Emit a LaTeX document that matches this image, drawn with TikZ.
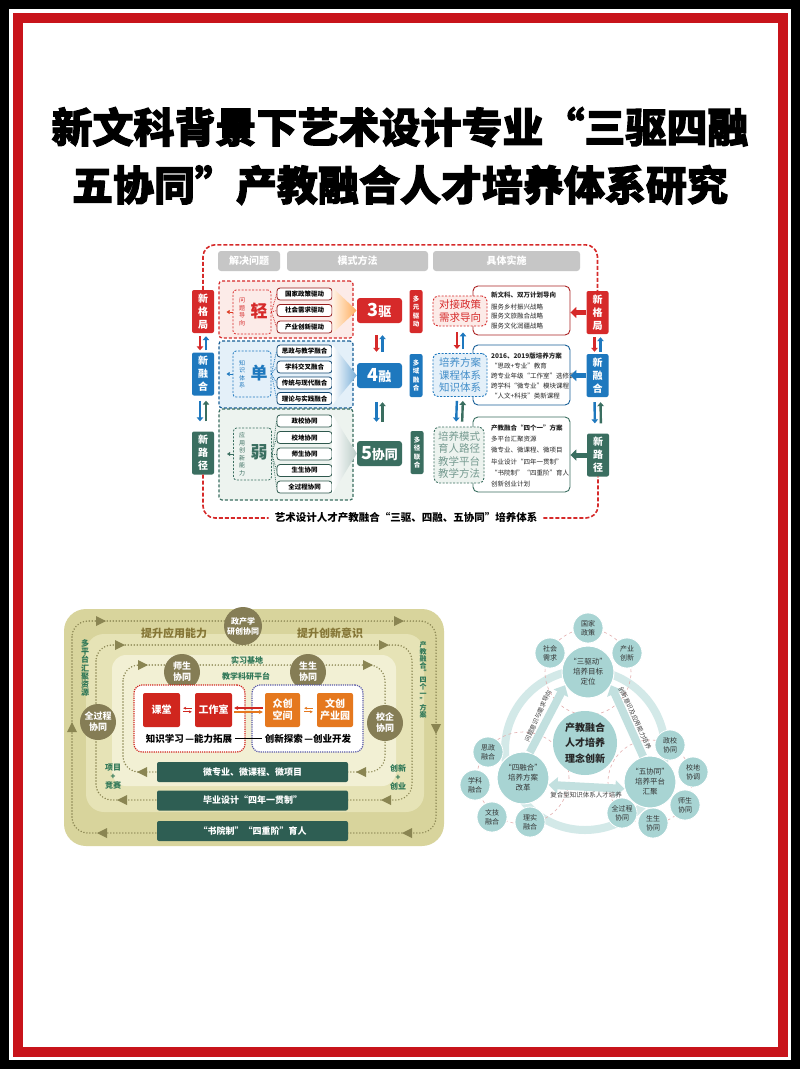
\documentclass[tikz,border=0pt]{standalone}
\usepackage{fontspec}
\setmainfont{Noto Sans CJK SC}
\newfontfamily\titlefont{Noto Sans CJK SC}[FakeBold=2.5]
\usetikzlibrary{arrows.meta,shapes.geometric,calc}
\definecolor{frameRed}{HTML}{C8141B}
\definecolor{tRed}{HTML}{D62A2A}
\definecolor{tBlue}{HTML}{1E78BE}
\definecolor{tGreen}{HTML}{3A6E60}
\definecolor{hdrGray}{HTML}{C6C6C6}
\definecolor{pinkF}{HTML}{FCEBE8}
\definecolor{blueF}{HTML}{E4F0F9}
\definecolor{greenF}{HTML}{EDF3EF}
\definecolor{olv}{HTML}{8A8552}
\definecolor{khA}{HTML}{D8D49C}
\definecolor{khB}{HTML}{E6E3B6}
\definecolor{khC}{HTML}{F2F0D4}
\definecolor{circO}{HTML}{857D55}
\definecolor{bRed}{HTML}{D0261E}
\definecolor{bOrg}{HTML}{E5781E}
\definecolor{barG}{HTML}{2E5E53}
\definecolor{lblG}{HTML}{2F7757}
\definecolor{lblB}{HTML}{857636}
\definecolor{tealF}{HTML}{A8D4D3}
\definecolor{ringC}{HTML}{D3E9E8}
\definecolor{arrC}{HTML}{C2E0DF}
\definecolor{dashP}{HTML}{E3AFAF}
\newcommand{\olvR}[2]{\fill[olv] (#1-4,#2-5) -- (#1+6,#2) -- (#1-4,#2+5) -- cycle;}
\newcommand{\olvL}[2]{\fill[olv] (#1+4,#2-5) -- (#1-6,#2) -- (#1+4,#2+5) -- cycle;}
\newcommand{\olvU}[2]{\fill[olv] (#1-5,#2+4) -- (#1,#2-6) -- (#1+5,#2+4) -- cycle;}
\newcommand{\olvD}[2]{\fill[olv] (#1-5,#2-4) -- (#1,#2+6) -- (#1+5,#2-4) -- cycle;}
\begin{document}
\begin{tikzpicture}[x=1pt,y=-1pt,
  sideBox/.style={rounded corners=2pt, minimum width=22pt, minimum height=43pt, text=white, font=\bfseries\fontsize{10}{13}\selectfont, align=center, inner sep=0pt},
  hdr/.style={fill=hdrGray, rounded corners=3pt, minimum height=20pt, text=white, font=\bfseries\fontsize{10}{10}\selectfont, inner sep=0pt},
  grp/.style={dash pattern=on 3pt off 2pt, line width=1.2pt, rounded corners=3pt, inner sep=0pt},
  item/.style={draw, line width=0.8pt, fill=white, rounded corners=3pt, minimum width=55pt, minimum height=12pt, inner sep=0pt, font=\bfseries\fontsize{6.5}{6.5}\selectfont},
  inbox/.style={dash pattern=on 2pt off 1.5pt, line width=0.8pt, rounded corners=3pt, minimum width=38pt, inner sep=0pt},
  num/.style={rounded corners=3pt, minimum width=45pt, minimum height=25pt, text=white, font=\bfseries\fontsize{13}{13}\selectfont, inner sep=0pt},
  mini/.style={rounded corners=2pt, minimum width=13pt, minimum height=43pt, text=white, font=\bfseries\fontsize{6.5}{8.5}\selectfont, align=center, inner sep=0pt},
  cloud/.style={dash pattern=on 2pt off 1.5pt, line width=0.9pt, rounded corners=5pt, inner sep=0pt, align=center, font=\fontsize{10.5}{12.2}\selectfont},
  det/.style={draw, line width=0.9pt, fill=white, rounded corners=5pt, minimum width=97pt, inner sep=0pt},
  dtext/.style={align=left, inner sep=0pt, anchor=west, text=black!85},
  xarr/.style={line width=2.4pt, -{Triangle[length=4pt,width=6.5pt]}},
  bigarr/.style={line width=5pt, -{Triangle[length=6pt,width=11pt]}},
  loopd/.style={olv, line width=1.6pt, dash pattern=on 0pt off 3pt, line cap=round, rounded corners=16pt},
  circ/.style={circle, fill=circO, text=white, font=\bfseries\fontsize{9}{11}\selectfont, align=center, minimum size=36pt, inner sep=0pt},
  rbox/.style={rounded corners=2pt, text=white, font=\bfseries\fontsize{10}{12}\selectfont, align=center, minimum width=37pt, minimum height=34pt, inner sep=0pt},
  gbar/.style={fill=barG, rounded corners=2pt, text=white, font=\bfseries\fontsize{9}{9}\selectfont, minimum width=191pt, minimum height=20pt, inner sep=0pt},
  mc/.style={circle, fill=tealF, draw=white, line width=1pt, minimum size=52pt, align=center, font=\fontsize{7.5}{10}\selectfont, inner sep=0pt, text=black!80},
  sat/.style={circle, fill=tealF, draw=white, line width=0.8pt, minimum size=30pt, align=center, font=\fontsize{7}{9}\selectfont, inner sep=0pt, text=black!80},
  barr/.style={arrC, line width=8pt, -{Triangle[length=9pt,width=16pt]}}
]
\useasboundingbox (0,0) rectangle (800,1069);
\fill[white] (0,0) rectangle (800,1069);
\draw[black, line width=9pt] (4.5,4.5) rectangle (795.5,1064.5);
\draw[frameRed, line width=10pt] (17.5,17.5) rectangle (782.5,1051.5);

% ---------- title ----------
\node[font=\titlefont\bfseries\fontsize{41}{41}\selectfont, inner sep=0pt] (t1) at (400,127) {新文科背景下艺术设计专业“三驱四融};
\node[font=\titlefont\bfseries\fontsize{41}{41}\selectfont, inner sep=0pt] (t2) at (400,185) {五协同”产教融合人才培养体系研究};

% ---------- top diagram ----------
\node[sideBox, fill=tRed] (lR) at (203,311.5) {新\\格\\局};
\node[sideBox, fill=tBlue] (lB) at (203,374) {新\\融\\合};
\node[sideBox, fill=tGreen] (lG) at (203,453) {新\\路\\径};

\node[hdr, minimum width=62pt] (h1) at (249,261) {解决问题};
\node[hdr, minimum width=141pt] (h2) at (357.5,261) {模式方法};
\node[hdr, minimum width=147pt] (h3) at (506.5,261) {具体实施};

\node[grp, draw=tRed, fill=pinkF, minimum width=134pt, minimum height=57pt] (gR) at (286,309.5) {};
\node[grp, draw=tBlue!80!black, fill=blueF, minimum width=134pt, minimum height=67pt] (gB) at (286,374.5) {};
\node[grp, draw=tGreen, fill=greenF, minimum width=134pt, minimum height=91pt] (gG) at (286,454.5) {};

\node[inbox, draw=tRed, minimum height=44pt] (iR) at (252,312) {};
\node[font=\fontsize{6}{7.5}\selectfont, text=tRed, align=center, inner sep=0pt] (iRt) at (242,312) {问\\题\\导\\向};
\node[font=\bfseries\fontsize{17}{17}\selectfont, text=tRed, inner sep=0pt] (iRb) at (259,311) {轻};
\node[inbox, draw=tBlue, minimum height=46pt] (iB) at (252,374) {};
\node[font=\fontsize{6}{7.5}\selectfont, text=tBlue, align=center, inner sep=0pt] (iBt) at (242,374) {知\\识\\体\\系};
\node[font=\bfseries\fontsize{17}{17}\selectfont, text=tBlue, inner sep=0pt] (iBb) at (259,373) {单};
\node[inbox, draw=tGreen, minimum height=52pt] (iG) at (252.5,454) {};
\node[font=\fontsize{6}{7.5}\selectfont, text=tGreen, align=center, inner sep=0pt] (iGt) at (242,454) {应\\用\\创\\新\\能\\力};
\node[font=\bfseries\fontsize{17}{17}\selectfont, text=tGreen, inner sep=0pt] (iGb) at (259,452) {弱};
\draw[tRed!80!orange, -{Triangle[length=3pt,width=4pt]}] (iR.west) -- ++(-6,0);
\draw[tBlue, -{Triangle[length=3pt,width=4pt]}] (iB.west) -- ++(-6,0);
\draw[tGreen, -{Triangle[length=3pt,width=4pt]}] (iG.west) -- ++(-6,0);

\node[item, draw=tRed!70!black] (r1) at (304.5,294) {国家政策驱动};
\node[item, draw=tRed!70!black] (r2) at (304.5,310.5) {社会需求驱动};
\node[item, draw=tRed!70!black] (r3) at (304.5,327) {产业创新驱动};
\node[item, draw=tBlue!60!black] (b1) at (304.5,351) {思政与教学融合};
\node[item, draw=tBlue!60!black] (b2) at (304.5,367) {学科交叉融合};
\node[item, draw=tBlue!60!black] (b3) at (304.5,383) {传统与现代融合};
\node[item, draw=tBlue!60!black] (b4) at (304.5,398.5) {理论与实践融合};
\node[item, draw=tGreen!80!black] (g1) at (304.5,421) {政校协同};
\node[item, draw=tGreen!80!black] (g2) at (304.5,437.5) {校地协同};
\node[item, draw=tGreen!80!black] (g3) at (304.5,454) {师生协同};
\node[item, draw=tGreen!80!black] (g4) at (304.5,470.5) {生生协同};
\node[item, draw=tGreen!80!black] (g5) at (304.5,487) {全过程协同};
\foreach \n in {r1,r2,r3} \draw[densely dotted, tRed, line width=0.8pt] (iR.east) -- (\n.west);
\foreach \n in {b1,b2,b3,b4} \draw[densely dotted, tBlue, line width=0.8pt] (iB.east) -- (\n.west);
\foreach \n in {g1,g2,g3,g4,g5} \draw[densely dotted, tGreen, line width=0.8pt] (iG.east) -- (\n.west);

\node[num, fill=tRed] (n3) at (379.5,310.5) {\fontsize{18}{18}\selectfont 3\fontsize{13}{13}\selectfont 驱};
\node[num, fill=tBlue] (n4) at (379.5,375.5) {\fontsize{18}{18}\selectfont 4\fontsize{13}{13}\selectfont 融};
\node[num, fill=tGreen] (n5) at (379.5,453.5) {\fontsize{18}{18}\selectfont 5\fontsize{13}{13}\selectfont 协同};
\shade[left color=orange!10, right color=orange!65] (r1.north east) -- (n3.west) -- (r3.south east) -- cycle;
\shade[left color=white, right color=tBlue!60] (b1.north east) -- (n4.west) -- (b4.south east) -- cycle;
\shade[left color=white, right color=tGreen!35] (g1.north east) -- (n5.west) -- (g5.south east) -- cycle;

\draw[xarr, tRed, shorten <=12pt, shorten >=11pt] ([xshift=-3pt]n3.south) -- ([xshift=-3pt]n4.north);
\draw[xarr, tBlue, shorten <=11pt, shorten >=12pt] ([xshift=3pt]n4.north) -- ([xshift=3pt]n3.south);
\draw[xarr, tBlue, shorten <=14pt, shorten >=19pt] ([xshift=-3pt]n4.south) -- ([xshift=-3pt]n5.north);
\draw[xarr, tGreen, shorten <=19pt, shorten >=14pt] ([xshift=3pt]n5.north) -- ([xshift=3pt]n4.south);

\draw[xarr, tRed, shorten <=3pt, shorten >=2pt] ([xshift=-3pt]lR.south) -- ([xshift=-3pt]lB.north);
\draw[xarr, tBlue, shorten <=2pt, shorten >=3pt] ([xshift=3pt]lB.north) -- ([xshift=3pt]lR.south);
\draw[xarr, tBlue, shorten <=5pt, shorten >=10pt] ([xshift=-3pt]lB.south) -- ([xshift=-3pt]lG.north);
\draw[xarr, tGreen, shorten <=10pt, shorten >=5pt] ([xshift=3pt]lG.north) -- ([xshift=3pt]lB.south);

\node[mini, fill=tRed] (mR) at (416,311.5) {多\\元\\驱\\动};
\node[mini, fill=tBlue] (mB) at (416,375.5) {多\\域\\融\\合};
\node[mini, fill=tGreen] (mG) at (417,452.5) {多\\径\\联\\合};

\node[det, draw=tRed!80!black, minimum height=49pt] (dR) at (521.5,310.5) {};
\node[dtext, font=\fontsize{6.5}{9.5}\selectfont] (dRt) at (491,310.5) {\textbf{新文科、双万计划导向}\\[2pt]服务乡村振兴战略\\服务文旅融合战略\\服务文化润疆战略};
\node[det, draw=tBlue!80!black, minimum height=60pt] (dB) at (521.5,375) {};
\node[dtext, font=\fontsize{6.5}{9.8}\selectfont] (dBt) at (491,376) {\textbf{2016、2019版培养方案}\\“思政+专业”教育\\跨专业年级“工作室”选修课\\跨学科“微专业”模块课程\\“人文+科技”类新课程};
\node[det, draw=tGreen, minimum height=75pt] (dG) at (521.5,454.5) {};
\node[dtext, font=\fontsize{6.5}{11.2}\selectfont] (dGt) at (491,456) {\textbf{产教融合“四个一”方案}\\多平台汇聚资源\\微专业、微课程、微项目\\毕业设计“四年一贯制”\\“书院制”“四重阶”育人\\创新创业计划};

\node[cloud, draw=tRed, fill=pinkF, text=tRed, minimum width=54pt, minimum height=30pt] (cR) at (460,311) {对接政策\\需求导向};
\node[cloud, draw=tBlue, fill=blueF, text=tBlue!85, minimum width=54pt, minimum height=43pt] (cB) at (460,375) {培养方案\\课程体系\\知识体系};
\node[cloud, draw=tGreen, fill=greenF, text=tGreen!70, minimum width=50pt, minimum height=56pt] (cG) at (459,455) {培养模式\\育人路径\\教学平台\\教学方法};
\draw[xarr, tRed, shorten <=6pt, shorten >=4pt] ([xshift=-3pt]cR.south) -- ([xshift=-3pt]cB.north);
\draw[xarr, tBlue, shorten <=4pt, shorten >=6pt] ([xshift=3pt]cB.north) -- ([xshift=3pt]cR.south);
\draw[xarr, tBlue, shorten <=4pt, shorten >=5pt] ([xshift=-3pt]cB.south) -- ([xshift=-3pt]cG.north);
\draw[xarr, tGreen, shorten <=5pt, shorten >=4pt] ([xshift=3pt]cG.north) -- ([xshift=3pt]cB.south);

\node[sideBox, fill=tRed] (rR) at (597.5,312.5) {新\\格\\局};
\node[sideBox, fill=tBlue] (rB) at (597.5,375.5) {新\\融\\合};
\node[sideBox, fill=tGreen] (rG) at (598,455) {新\\路\\径};
\draw[bigarr, tRed] (rR.west) -- (rR.west -| dR.east);
\draw[bigarr, tBlue] (rB.west) -- (rB.west -| dB.east);
\draw[bigarr, tGreen] (rG.west) -- (rG.west -| dG.east);
\draw[xarr, tRed, shorten <=3pt, shorten >=2pt] ([xshift=-3pt]rR.south) -- ([xshift=-3pt]rB.north);
\draw[xarr, tBlue, shorten <=2pt, shorten >=3pt] ([xshift=3pt]rB.north) -- ([xshift=3pt]rR.south);
\draw[xarr, tBlue, shorten <=5pt, shorten >=10pt] ([xshift=-3pt]rB.south) -- ([xshift=-3pt]rG.north);
\draw[xarr, tGreen, shorten <=10pt, shorten >=5pt] ([xshift=3pt]rG.north) -- ([xshift=3pt]rB.south);

\node[font=\bfseries\fontsize{10.5}{10.5}\selectfont, inner sep=6pt] (cap) at (406,518) {艺术设计人才产教融合“三驱、四融、五协同”培养体系};
\draw[tRed, dash pattern=on 4pt off 2pt, line width=1.6pt, rounded corners=12pt] (lR.north) -- ++(0,-45) -| (rR.north);
\draw[tRed, dash pattern=on 4pt off 2pt, line width=1.6pt, rounded corners=12pt] (lG.south) |- (cap.west);
\draw[tRed, dash pattern=on 4pt off 2pt, line width=1.6pt, rounded corners=12pt] (cap.east) -| (rG.south);

% ---------- bottom-left diagram ----------
\fill[khA, rounded corners=22pt] (64,609) rectangle (444,846);
\fill[khB, rounded corners=18pt] (86,634) rectangle (424,812);
\fill[khC, rounded corners=14pt] (112,655) rectangle (396,786);
\draw[loopd] (72,621) rectangle (436,833);
\draw[loopd] (96,645) rectangle (412,800);
\draw[loopd] (123,665) rectangle (385,772);
\olvR{100}{621} \olvR{398}{621} \olvU{72}{728} \olvD{436}{728} \olvL{103}{833} \olvL{408}{833}
\olvR{119}{645} \olvR{383}{645} \olvL{123}{800} \olvL{387}{800}
\olvR{142}{665} \olvR{367}{665} \olvL{143}{772} \olvL{362}{772}

\node[text=lblB, font=\bfseries\fontsize{11}{11}\selectfont] (lab1) at (174,633) {提升应用能力};
\node[text=lblB, font=\bfseries\fontsize{11}{11}\selectfont] (lab2) at (330,633) {提升创新意识};
\node[text=lblG, font=\bfseries\fontsize{8}{8}\selectfont, inner sep=1pt] (lab3) at (247,660) {实习基地};
\node[text=lblG, font=\bfseries\fontsize{8}{8}\selectfont, inner sep=1pt] (lab4) at (246,676) {教学科研平台};
\node[text=lblG, font=\bfseries\fontsize{8}{8.2}\selectfont, align=center, inner sep=0pt] (lab5) at (85,668) {多\\平\\台\\汇\\聚\\资\\源};
\node[text=lblG, font=\bfseries\fontsize{7}{7}\selectfont, align=center, inner sep=0pt] (lab6) at (423,680) {产\\教\\融\\合\\“\\四\\个\\一\\”\\方\\案};
\node[text=lblG, font=\bfseries\fontsize{8}{9}\selectfont, align=center, inner sep=0pt] (lab7) at (113,777) {项目\\+\\竞赛};
\node[text=lblG, font=\bfseries\fontsize{8}{9}\selectfont, align=center, inner sep=0pt] (lab8) at (398,777) {创新\\+\\创业};

\node[circ] (cQ) at (98,722) {全过程\\协同};
\node[circ] (cX) at (385,723) {校企\\协同};
\node[circ] (cS) at (182,672) {师生\\协同};
\node[circ] (cSS) at (308,672) {生生\\协同};
\node[circ, minimum size=38pt, font=\bfseries\fontsize{8}{10}\selectfont] (cZ) at (243,626) {政产学\\研创协同};

\node[draw=bRed, densely dotted, line width=1.2pt, fill=white, rounded corners=8pt, minimum width=111pt, minimum height=67pt, inner sep=0pt] (ibL) at (189.5,718.5) {};
\node[draw=gray!70!blue, densely dotted, line width=1.2pt, fill=white, rounded corners=8pt, minimum width=111pt, minimum height=67pt, inner sep=0pt] (ibR) at (307.5,718.5) {};
\node[rbox, fill=bRed] (kt) at (161.5,710) {课堂};
\node[rbox, fill=bRed] (gzs) at (213.5,710) {工作室};
\node[rbox, fill=bOrg, minimum width=35pt] (zc) at (282.5,710) {众创\\空间};
\node[rbox, fill=bOrg, minimum width=36pt] (wc) at (335,710) {文创\\产业园};
\draw[bRed, line width=1pt, -{Stealth[length=3pt,width=3pt]}, shorten <=3pt, shorten >=3pt] ([yshift=1.8pt]gzs.west) -- ([yshift=1.8pt]kt.east);
\draw[bRed, line width=1pt, -{Stealth[length=3pt,width=3pt]}, shorten <=3pt, shorten >=3pt] ([yshift=-1.8pt]kt.east) -- ([yshift=-1.8pt]gzs.west);
\draw[bRed, line width=1.5pt, -{Stealth[length=4pt,width=4pt]}, shorten <=2pt, shorten >=2pt] ([yshift=2pt]zc.west) -- ([yshift=2pt]gzs.east);
\draw[bOrg, line width=1.5pt, -{Stealth[length=4pt,width=4pt]}, shorten <=2pt, shorten >=2pt] ([yshift=-2pt]gzs.east) -- ([yshift=-2pt]zc.west);
\draw[bOrg, line width=1pt, -{Stealth[length=3pt,width=3pt]}, shorten <=4pt, shorten >=4pt] ([yshift=1.8pt]wc.west) -- ([yshift=1.8pt]zc.east);
\draw[bOrg, line width=1pt, -{Stealth[length=3pt,width=3pt]}, shorten <=4pt, shorten >=4pt] ([yshift=-1.8pt]zc.east) -- ([yshift=-1.8pt]wc.west);
\node[font=\bfseries\fontsize{9.5}{9.5}\selectfont, inner sep=1pt] (tl) at (189,738.5) {知识学习\,—能力拓展};
\node[font=\bfseries\fontsize{9.5}{9.5}\selectfont, inner sep=1pt] (tr) at (308,738.5) {创新探索\,—创业开发};
\draw[line width=1pt, shorten <=2pt, shorten >=2pt] (tl.east) -- (tr.west);

\node[gbar] (br1) at (252.5,772) {微专业、微课程、微项目};
\node[gbar] (br2) at (252.5,800.5) {毕业设计“四年一贯制”};
\node[gbar] (br3) at (252.5,831) {“书院制”“四重阶”育人};

% ---------- bottom-right diagram ----------
\draw[ringC, line width=8pt] (585,750) circle (80pt);
\coordinate (oT) at (588,672);
\coordinate (oL) at (523,778);
\coordinate (oR) at (650,782);
\draw[dashP, dashed, line width=0.6pt] (oT) circle (43pt);
\draw[dashP, dashed, line width=0.6pt] (oL) circle (46pt);
\draw[dashP, dashed, line width=0.6pt] (oR) circle (42pt);
\node[sat] (s1) at (588,628) {国家\\政策};
\node[sat] (s2) at (550,653) {社会\\需求};
\node[sat] (s3) at (627,653) {产业\\创新};
\node[sat] (s4) at (488,752) {思政\\融合};
\node[sat] (s5) at (475,785) {学科\\融合};
\node[sat] (s6) at (492,817) {文技\\融合};
\node[sat] (s7) at (530,822) {理实\\融合};
\node[sat] (s8) at (670,745) {政校\\协同};
\node[sat] (s9) at (693,772) {校地\\协调};
\node[sat] (s10) at (685,805) {师生\\协同};
\node[sat] (s11) at (653,823) {生生\\协同};
\node[sat] (s12) at (622,813) {全过程\\协同};
\node[circle, fill=tealF, minimum size=64pt, align=center, font=\bfseries\fontsize{10}{15.5}\selectfont, inner sep=0pt, text=black!85] (cc) at (585,743) {产教融合\\人才培养\\理念创新};
\node[mc] (T) at (oT) {“三驱动”\\培养目标\\定位};
\node[mc] (L) at (oL) {“四融合”\\培养方案\\改革};
\node[mc] (R) at (oR) {“五协同”\\培养平台\\汇聚};
\draw[barr] (L.75) -- (T.210);
\draw[barr] (R.105) -- (T.330);
\draw[barr, {Triangle[length=9pt,width=16pt]}-{Triangle[length=9pt,width=16pt]}] (L.-15) -- (R.195);
\node[rotate=66, font=\fontsize{6.2}{6.2}\selectfont, text=black!75, inner sep=0pt] (al) at (538,716) {问题意识与需求导向};
\node[rotate=-65, font=\fontsize{6.2}{6.2}\selectfont, text=black!75, inner sep=0pt] (ar) at (635,718) {创新意识及应用能力培养};
\node[font=\fontsize{6.5}{6.5}\selectfont, text=black!75, inner sep=0pt] (ab) at (586,795) {复合型知识体系人才培养};
\end{tikzpicture}
\end{document}
